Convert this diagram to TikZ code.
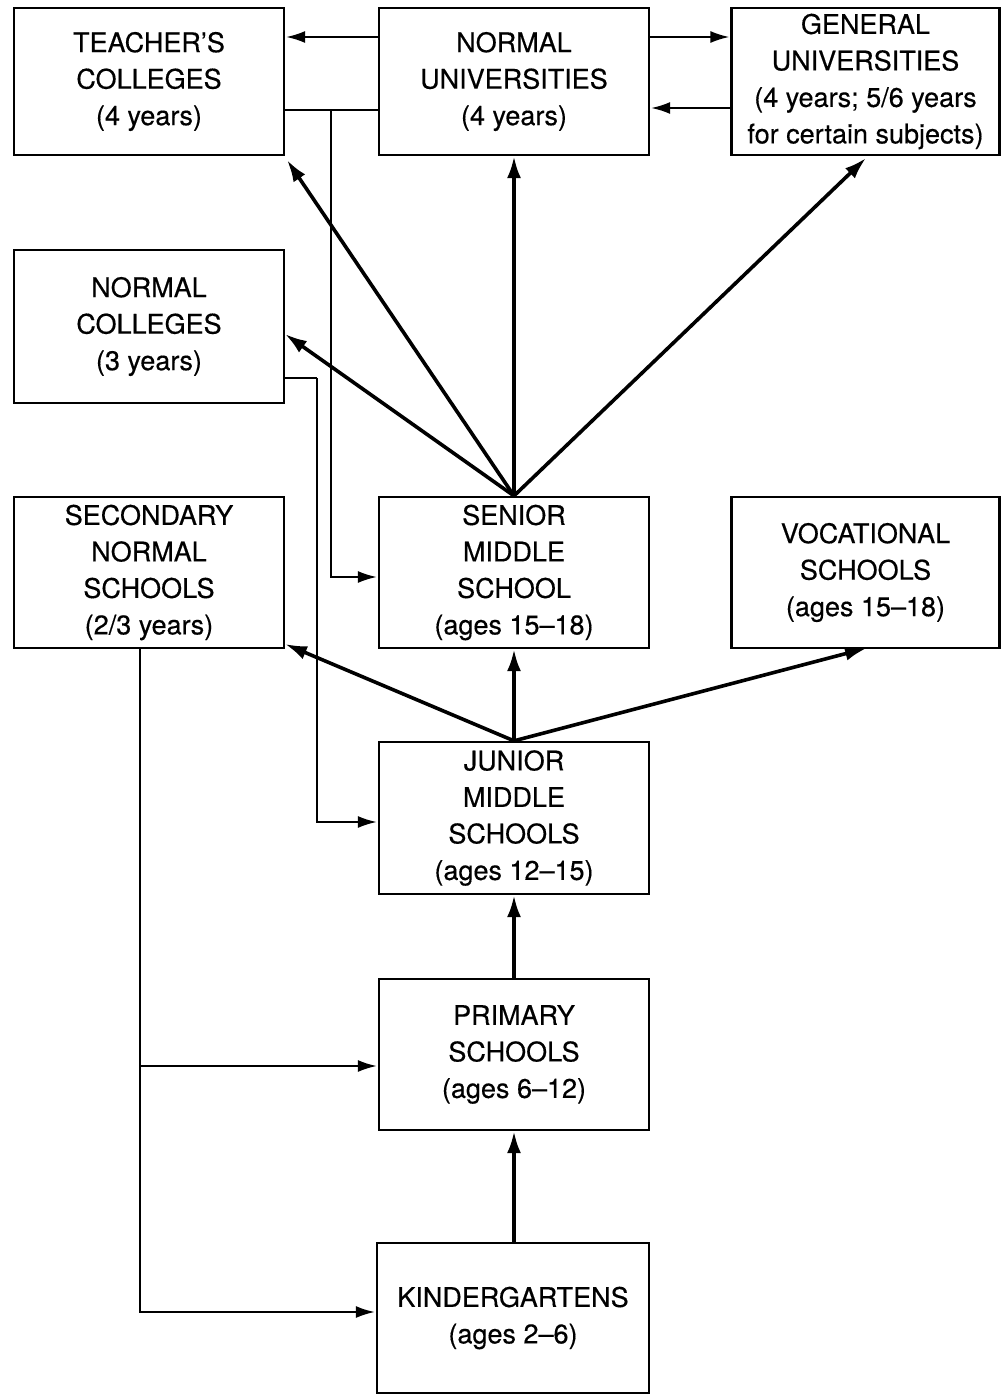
\documentclass[tikz,border=0pt]{standalone}
\usepackage{fontspec}
\setmainfont{TeX Gyre Heros}[FakeBold=0.4]
\usetikzlibrary{arrows.meta}
\begin{document}
\begin{tikzpicture}[x=1pt,y=-1pt,
  box/.style={draw,line width=2.3pt,rectangle,minimum width=270pt,inner sep=0pt,align=center,
    font=\fontsize{27}{36.5}\selectfont},
  thinline/.style={line width=2pt},
  thinarrow/.style={line width=2pt,-{Latex[length=19pt,width=12pt]},shorten >=1pt},
  thickarrow/.style={line width=3.6pt,-{Latex[length=22pt,width=14pt]}}
]
\useasboundingbox (0,0) rectangle (1001,1396);
\node[box,minimum height=147pt] (TC) at (149,81.5) {TEACHER'S\\COLLEGES\\(4 years)};
\node[box,minimum height=147pt] (NU) at (514,81.5) {NORMAL\\UNIVERSITIES\\(4 years)};
\node[box,minimum height=147pt,minimum width=268pt] (GU) at (865.5,81.5) {GENERAL\\UNIVERSITIES\\(4 years; 5/6 years\\for certain subjects)};
\node[box,minimum height=153pt] (NC) at (149,326.5) {NORMAL\\COLLEGES\\(3 years)};
\node[box,minimum height=151pt] (SN) at (149,572.5) {SECONDARY\\NORMAL\\SCHOOLS\\(2/3 years)};
\node[box,minimum height=151pt] (SM) at (514,572.5) {SENIOR\\MIDDLE\\SCHOOL\\(ages 15–18)};
\node[box,minimum height=151pt,minimum width=268pt] (VS) at (865.5,572.5) {VOCATIONAL\\SCHOOLS\\(ages 15–18)};
\node[box,minimum height=152pt] (JM) at (514,818) {JUNIOR\\MIDDLE\\SCHOOLS\\(ages 12–15)};
\node[box,minimum height=151pt] (PS) at (514,1054.5) {PRIMARY\\SCHOOLS\\(ages 6–12)};
\node[box,minimum height=150pt,minimum width=272pt] (KG) at (513,1318) {KINDERGARTENS\\(ages 2–6)};

% coordinates for thin connectors
\coordinate (ya) at (0,37);
\coordinate (yb) at (0,108);
\coordinate (yc) at (0,110);
\coordinate (tv) at (331,110);
\coordinate (ys) at (0,577);
\coordinate (yn) at (0,378);
\coordinate (nv) at (317,378);
\coordinate (yj) at (0,822);
\coordinate (sv) at (140,1066);
\coordinate (yk) at (0,1312);

% thin connectors
\draw[thinarrow] (NU.west |- ya) -- (TC.east |- ya);
\draw[thinarrow] (NU.east |- ya) -- (GU.west |- ya);
\draw[thinarrow] (GU.west |- yb) -- (NU.east |- yb);
\draw[thinline] (TC.east |- yc) -- (NU.west |- yc);
\draw[thinarrow] (tv) |- (SM.west |- ys);
\draw[thinline] (NC.east |- yn) -- (nv);
\draw[thinarrow] (nv) |- (JM.west |- yj);
\draw[thinarrow] (SN.south -| sv) |- (KG.west |- yk);
\draw[thinarrow] (sv) -- (PS.west |- sv);

% thick arrows from senior middle school
\coordinate (tcc) at (287,160);
\coordinate (ncc) at (285,334);
\coordinate (guc) at (866,158);
\draw[thickarrow] (SM.north) -- (tcc);
\draw[thickarrow] (SM.north) -- (ncc);
\draw[thickarrow] (SM.north) -- (NU.south);
\draw[thickarrow] (SM.north) -- (guc);

% thick arrows from junior middle schools
\coordinate (snc) at (285,644);
\coordinate (vsc) at (867,648);
\draw[thickarrow] (JM.north) -- (snc);
\draw[thickarrow] (JM.north) -- (SM.south);
\draw[thickarrow] (JM.north) -- (vsc);

\draw[thickarrow] (PS.north) -- (JM.south);
\draw[thickarrow] (KG.north -| PS.north) -- (PS.south);
\end{tikzpicture}
\end{document}
